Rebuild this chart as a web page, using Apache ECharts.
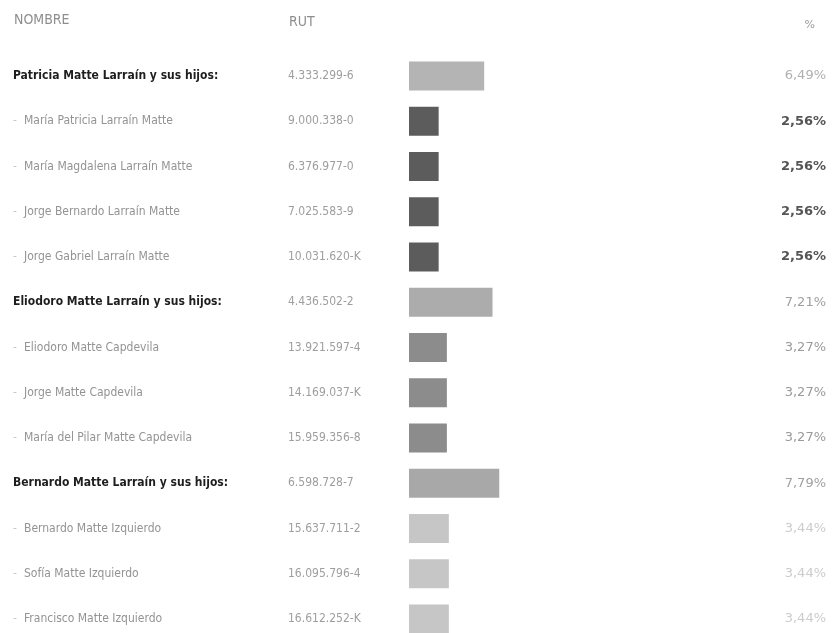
<!DOCTYPE html>
<html>
<head>
<meta charset="utf-8">
<script src="https://cdn.jsdelivr.net/npm/echarts@6/dist/echarts.min.js"></script>
<style>html,body{margin:0;padding:0;background:#fff;}#c{width:832px;height:633px;}</style>
</head>
<body>
<div id="c"></div>
<script>
// ---- data ----
const names = [
  'Patricia Matte Larraín y sus hijos:',
  'María Patricia Larraín Matte',
  'María Magdalena Larraín Matte',
  'Jorge Bernardo Larraín Matte',
  'Jorge Gabriel Larraín Matte',
  'Eliodoro Matte Larraín y sus hijos:',
  'Eliodoro Matte Capdevila',
  'Jorge Matte Capdevila',
  'María del Pilar Matte Capdevila',
  'Bernardo Matte Larraín y sus hijos:',
  'Bernardo Matte Izquierdo',
  'Sofía Matte Izquierdo',
  'Francisco Matte Izquierdo'
];
const ruts = [
  '4.333.299-6', '9.000.338-0', '6.376.977-0', '7.025.583-9', '10.031.620-K',
  '4.436.502-2', '13.921.597-4', '14.169.037-K', '15.959.356-8',
  '6.598.728-7', '15.637.711-2', '16.095.796-4', '16.612.252-K'
];
const percents = [6.49, 2.56, 2.56, 2.56, 2.56, 7.21, 3.27, 3.27, 3.27, 7.79, 3.44, 3.44, 3.44];
const isGroup = [true, false, false, false, false, true, false, false, false, true, false, false, false];
const headers = ['NOMBRE', 'RUT', '%'];

// ---- styles ----
const barColors = ['#b4b4b4', '#5c5c5c', '#5c5c5c', '#5c5c5c', '#5c5c5c',
  '#acacac', '#8c8c8c', '#8c8c8c', '#8c8c8c',
  '#a8a8a8', '#c6c6c6', '#c6c6c6', '#c6c6c6'];
const pctColors = ['#b0b0b0', '#555555', '#555555', '#555555', '#555555',
  '#a0a0a0', '#9a9a9a', '#9a9a9a', '#9a9a9a',
  '#a0a0a0', '#cccccc', '#cccccc', '#cccccc'];
const narrow = "'Liberation Sans Narrow', 'DejaVu Sans Condensed', sans-serif";
const pctFont = "'DejaVu Sans', sans-serif";

const cats = names.map((n, i) => String(i));
const chart = echarts.init(document.getElementById('c'), null, {renderer: 'canvas'});
const gridLeft = 409;

chart.setOption({
  animation: false,
  backgroundColor: '#ffffff',
  title: [
    {text: headers[0], left: 9, top: 8, textStyle: {fontFamily: narrow, fontSize: 14, fontWeight: 'normal', color: '#8e8e8e'}},
    {text: headers[1], left: 284, top: 10, textStyle: {fontFamily: narrow, fontSize: 14, fontWeight: 'normal', color: '#8e8e8e'}},
    {text: headers[2], right: 12, top: 15, textStyle: {fontFamily: pctFont, fontSize: 11, fontWeight: 'normal', color: '#9a9a9a'}}
  ],
  grid: {left: gridLeft, right: 6, top: 76, bottom: 14},
  xAxis: {type: 'value', min: 0, max: 36, show: false},
  yAxis: [
    {
      type: 'category', data: cats, inverse: true, boundaryGap: false, position: 'left',
      axisLine: {show: false}, axisTick: {show: false}, splitLine: {show: false},
      axisLabel: {
        align: 'left', margin: gridLeft - 13,
        formatter: (v) => {
          const i = +v;
          return isGroup[i] ? '{g|' + names[i] + '}' : '{d|-}{c|' + names[i] + '}';
        },
        rich: {
          g: {fontFamily: narrow, fontSize: 12, fontWeight: 'bold', color: '#1e1e1e'},
          d: {fontFamily: narrow, fontSize: 12, color: '#c8c8c8', width: 11},
          c: {fontFamily: narrow, fontSize: 12, color: '#939393'}
        }
      }
    },
    {
      type: 'category', data: cats, inverse: true, boundaryGap: false, position: 'left',
      axisLine: {show: false}, axisTick: {show: false}, splitLine: {show: false},
      axisLabel: {
        align: 'left', margin: gridLeft - 288,
        fontFamily: narrow, fontSize: 12, color: '#9e9e9e',
        formatter: (v) => ruts[+v]
      }
    },
    {
      type: 'category', data: cats, inverse: true, boundaryGap: false, position: 'right',
      axisLine: {show: false}, axisTick: {show: false}, splitLine: {show: false},
      axisLabel: {
        align: 'right', margin: 0,
        formatter: (v) => '{p' + v + '|' + percents[+v].toFixed(2).replace('.', ',') + '%}',
        rich: Object.fromEntries(percents.map((p, i) => ['p' + i, {
          fontFamily: pctFont, fontSize: 13,
          fontWeight: pctColors[i] === '#555555' ? 'bold' : 'normal',
          color: pctColors[i]
        }]))
      }
    }
  ],
  series: [{
    type: 'bar',
    yAxisIndex: 0,
    barWidth: 29,
    data: percents.map((p, i) => ({value: p, itemStyle: {color: barColors[i]}})),
    label: {show: false}
  }]
});
</script>
</body>
</html>
